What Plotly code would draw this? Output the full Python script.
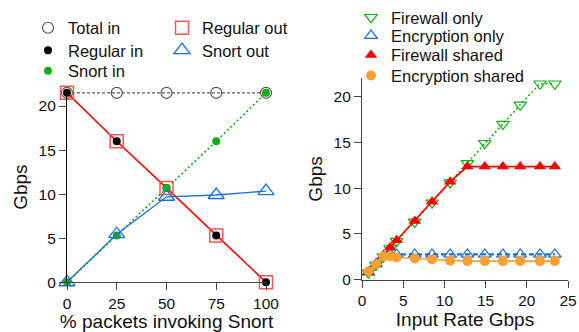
import plotly.graph_objects as go

# ---------------- Left chart data ----------------
pct = [0, 25, 50, 75, 100]
total_in = [21.5, 21.5, 21.5, 21.5, 21.5]
regular_in = [21.5, 16.0, 10.7, 5.3, 0.0]
snort_in = [0.0, 5.3, 10.7, 16.0, 21.5]
regular_out = [21.5, 16.0, 10.7, 5.3, 0.0]
snort_out = [0.0, 5.45, 9.7, 9.9, 10.35]

# ---------------- Right chart data ----------------
rate = [0.77, 1.7, 2.6, 3.4, 4.2, 6.4, 8.5, 10.7, 12.8, 14.9, 17.1, 19.2, 21.6, 23.4]
fw_only = [0.75, 1.6, 2.5, 3.4, 4.2, 6.3, 8.4, 10.6, 12.7, 14.9, 17.0, 19.1, 21.4, 21.4]
enc_only = [0.8, 1.7, 2.6, 2.75, 2.75, 2.75, 2.75, 2.75, 2.75, 2.75, 2.75, 2.75, 2.75, 2.75]
fw_shared = [0.8, 1.7, 2.6, 3.5, 4.3, 6.4, 8.5, 10.7, 12.35, 12.35, 12.35, 12.35, 12.35, 12.35]
enc_shared = [0.88, 1.68, 2.55, 2.56, 2.42, 2.3, 2.2, 2.06, 2.02, 2.02, 2.02, 2.02, 2.02, 2.02]

left_ticks = [0, 25, 50, 75, 100]
right_xticks = [0, 5, 10, 15, 20, 25]
y_ticks = [0, 5, 10, 15, 20]

GREEN = "#10b010"
RED = "#ff0000"
BLUE = "#1a6fd6"
ORANGE = "#fba033"
GRAY = "#555555"
FONT = "Liberation Sans, Arial, sans-serif"

W, H = 579, 332
def px_x(p):
    return p / W
def px_y(p):
    return (H - p) / H

fig = go.Figure()
legends = {}
LEG_DX = 21   # offset from legend left edge to symbol centre
LEG_DY = -4.5 # vertical correction for legend box centre

def add(x, y, xa, ya, name, legend, pos, line=None, marker=None):
    if line is not None:
        fig.add_trace(go.Scatter(x=x, y=y, xaxis=xa, yaxis=ya, mode="lines",
                                 line=line, showlegend=False, hoverinfo="skip"))
    fig.add_trace(go.Scatter(x=x, y=y, xaxis=xa, yaxis=ya, mode="markers",
                             marker=marker, name=name, legend=legend,
                             cliponaxis=False))
    legends[legend] = dict(x=px_x(pos[0] - LEG_DX), y=px_y(pos[1] + LEG_DY),
                           xanchor="left", yanchor="middle",
                           font=dict(size=16.5, family=FONT, color="#111"),
                           bgcolor="rgba(0,0,0,0)", itemwidth=30, borderwidth=0)

# Left chart
add(pct, total_in, "x", "y", "Total in", "legend", (49, 25),
    line=dict(color=GRAY, width=1.2, dash="3px,2px"),
    marker=dict(symbol="circle-open", size=11, color=GRAY, line=dict(width=1.2)))
add(pct, regular_out, "x", "y", "Regular out", "legend2", (183, 25),
    line=dict(color=RED, width=1.6),
    marker=dict(symbol="square-open", size=13, color="#ff5555", line=dict(width=1.5)))
add(pct, regular_in, "x", "y", "Regular in", "legend3", (49, 48), line=None,
    marker=dict(symbol="circle", size=8, color="black"))
add(pct, snort_in, "x", "y", "Snort in", "legend4", (49, 69),
    line=dict(color=GREEN, width=1.6, dash="2px,2.5px"),
    marker=dict(symbol="circle", size=8, color=GREEN))
add(pct, snort_out, "x", "y", "Snort out", "legend5", (183, 48),
    line=dict(color=BLUE, width=1.3),
    marker=dict(symbol="triangle-up-open", size=14, color=BLUE, line=dict(width=1.3)))

# Right chart
add(rate, fw_only, "x2", "y2", "Firewall only", "legend6", (372, 14),
    line=dict(color=GREEN, width=1.6, dash="2px,2.5px"),
    marker=dict(symbol="triangle-down-open", size=11, color=GREEN, line=dict(width=1.2)))
add(rate, enc_only, "x2", "y2", "Encryption only", "legend7", (372, 33),
    line=dict(color=BLUE, width=2.2, dash="5px,3px"),
    marker=dict(symbol="triangle-up-open", size=11, color=BLUE, line=dict(width=1.2)))
add(rate, fw_shared, "x2", "y2", "Firewall shared", "legend8", (372, 53),
    line=dict(color=RED, width=1.6),
    marker=dict(symbol="triangle-up", size=11, color=RED))
add(rate, enc_shared, "x2", "y2", "Encryption shared", "legend9", (372, 74),
    line=dict(color=ORANGE, width=1.6),
    marker=dict(symbol="circle", size=10, color=ORANGE))

axis_common = dict(showgrid=False, zeroline=False, showline=True, linewidth=1.2,
                   ticks="outside", ticklen=7, tickwidth=1.2, tickcolor="#444",
                   automargin=False,
                   tickfont=dict(size=15.5, color="#111", family=FONT),
                   title_font=dict(size=19, color="#111", family=FONT))

fig.update_layout(
    width=W, height=H,
    margin=dict(l=0, r=0, t=0, b=0),
    paper_bgcolor="white", plot_bgcolor="white",
    font=dict(family=FONT, color="#111"),
    xaxis=dict(domain=[px_x(67), px_x(266)], range=[0, 100], tickvals=left_ticks,
               linecolor="#444", anchor="y", title=dict(text="% packets invoking Snort", standoff=4),
               **axis_common),
    yaxis=dict(domain=[px_y(281), px_y(86)], range=[0, 21.6], tickvals=y_ticks,
               linecolor="#000", anchor="x", title=dict(text="Gbps", standoff=5),
               **axis_common),
    xaxis2=dict(domain=[px_x(362), px_x(568)], range=[0, 25], tickvals=right_xticks,
                linecolor="#444", anchor="y2", title=dict(text="Input Rate Gbps", standoff=4),
                **axis_common),
    yaxis2=dict(domain=[px_y(278.3), px_y(72.0)], range=[0, 22], tickvals=y_ticks,
                linecolor="#444", anchor="x2", title=dict(text="Gbps", standoff=5),
                **axis_common),
    **legends,
)

fig.write_html("out.html", config={"displayModeBar": False},
               post_script="document.body.style.margin='0';document.body.style.padding='0';")
